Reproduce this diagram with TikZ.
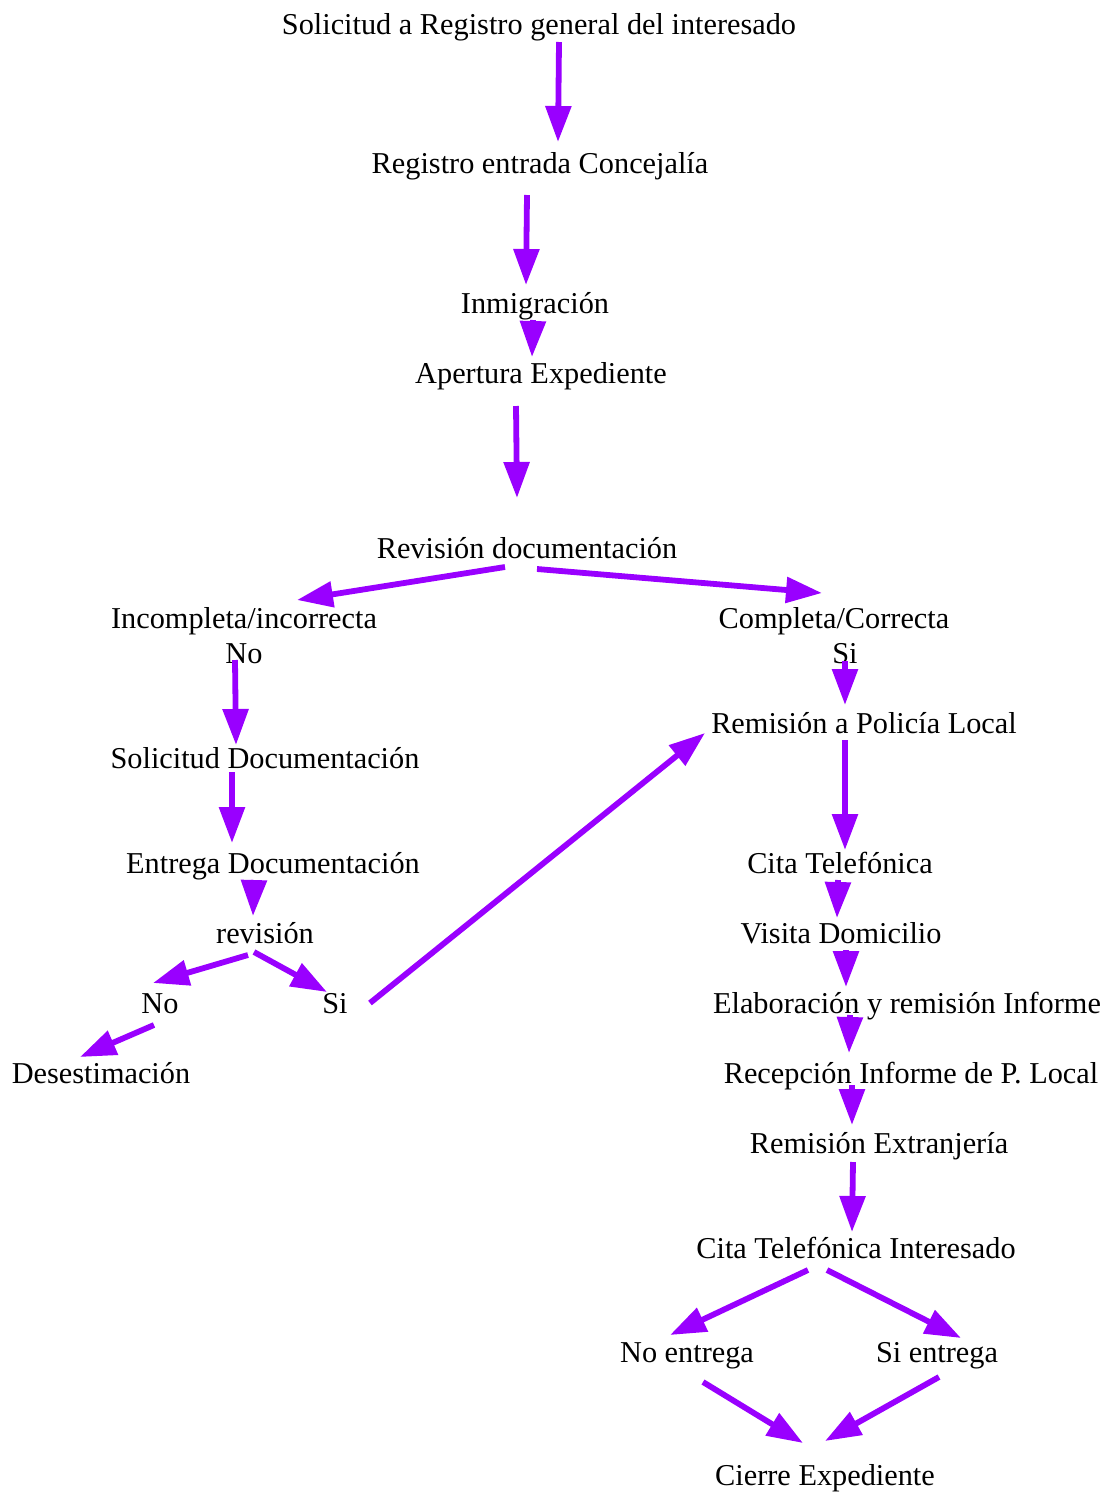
\documentclass[tikz,border=0pt]{standalone}
\usepackage{fontspec}
\setmainfont{Liberation Serif}
\usetikzlibrary{arrows.meta}
\definecolor{flowpurple}{RGB}{153,0,255}

\begin{document}
\begin{tikzpicture}[x=1pt,y=-1pt,
  lbl/.style={font=\fontsize{30.3}{35}\selectfont, inner sep=0pt, text height=20pt, text depth=0pt},
  lbltwo/.style={font=\fontsize{30.3}{35}\selectfont, inner sep=0pt, align=center, anchor=north},
  flow/.style={draw=flowpurple, line width=5.8pt, -{Triangle[length=36pt,width=25pt]}}]
\useasboundingbox (0,0) rectangle (1106,1492);

\node[lbl] (sol) at (539,24) {Solicitud a Registro general del interesado};
\node[lbl] (reg) at (540,163) {Registro entrada Concejalía};
\node[lbl] (inm) at (535,303) {Inmigración};
\node[lbl] (ape) at (541,373) {Apertura Expediente};
\node[lbl] (rev) at (527,548) {Revisión documentación};
\node[lbltwo] (inc) at (244,607) {Incompleta/incorrecta\\No};
\node[lbltwo] (com) at (834,607) {Completa/Correcta\\\hspace*{22pt}Si};
\node[lbl] (rpl) at (864,723) {Remisión a Policía Local};
\node[lbl] (sdoc) at (265,758) {Solicitud Documentación};
\node[lbl] (cita) at (840,863) {Cita Telefónica};
\node[lbl] (edoc) at (273,863) {Entrega Documentación};
\node[lbl] (rvs) at (265,933) {revisión};
\node[lbl] (visi) at (841,933) {Visita Domicilio};
\node[lbl] (no) at (160,1003) {No};
\node[lbl] (si) at (335,1003) {Si};
\node[lbl] (elab) at (907,1003) {Elaboración y remisión Informe};
\node[lbl] (dese) at (101,1073) {Desestimación};
\node[lbl] (recep) at (911,1073) {Recepción Informe de P. Local};
\node[lbl] (extr) at (879,1143) {Remisión Extranjería};
\node[lbl] (citai) at (856,1248) {Cita Telefónica Interesado};
\node[lbl] (noent) at (687,1352) {No entrega};
\node[lbl] (sient) at (937,1352) {Si entrega};
\node[lbl] (cierre) at (825,1475) {Cierre Expediente};

\draw[flow] ([shift={(20,18)}]sol.center) -- ([shift={(18,-21)}]reg.center);
\draw[flow] ([shift={(-13,32)}]reg.center) -- ([shift={(-9,-18)}]inm.center);
\draw[flow] ([shift={(-2,17)}]inm.center) -- ([shift={(-9,-16)}]ape.center);
\draw[flow] ([shift={(-25,33)}]ape.center) -- ([shift={(-10,-50)}]rev.center);
\draw[flow] ([shift={(-22,19)}]rev.center) -- ([shift={(53,-7)}]inc.north);
\draw[flow] ([shift={(10,21)}]rev.center) -- ([shift={(-12,-14)}]com.north);
\draw[flow] ([shift={(-9,53)}]inc.north) -- ([shift={(-29,-13)}]sdoc.center);
\draw[flow] ([shift={(-33,14)}]sdoc.center) -- ([shift={(-41,-20)}]edoc.center);
\draw[flow] ([shift={(-19,17)}]edoc.center) -- ([shift={(-12,-17)}]rvs.center);
\draw[flow] ([shift={(-17,22)}]rvs.center) -- ([shift={(-7,-20)}]no.center);
\draw[flow] ([shift={(-11,19)}]rvs.center) -- ([shift={(-8,-11)}]si.center);
\draw[flow] ([shift={(-6,22)}]no.center) -- ([shift={(-21,-16)}]dese.center);
\draw[flow] ([shift={(35,0)}]si.center) -- ([shift={(-159,10)}]rpl.center);
\draw[flow] ([shift={(11,54)}]com.north) -- ([shift={(-19,-18)}]rpl.center);
\draw[flow] ([shift={(-19,17)}]rpl.center) -- ([shift={(5,-13)}]cita.center);
\draw[flow] ([shift={(-2,17)}]cita.center) -- ([shift={(-4,-15)}]visi.center);
\draw[flow] ([shift={(5,17)}]visi.center) -- ([shift={(-61,-16)}]elab.center);
\draw[flow] ([shift={(-57,12)}]elab.center) -- ([shift={(-62,-20)}]recep.center);
\draw[flow] ([shift={(-59,12)}]recep.center) -- ([shift={(-27,-18)}]extr.center);
\draw[flow] ([shift={(-26,19)}]extr.center) -- ([shift={(-4,-16)}]citai.center);
\draw[flow] ([shift={(-48,22)}]citai.center) -- ([shift={(-17,-17)}]noent.center);
\draw[flow] ([shift={(-29,22)}]citai.center) -- ([shift={(24,-14)}]sient.center);
\draw[flow] ([shift={(16,30)}]noent.center) -- ([shift={(-22,-32)}]cierre.center);
\draw[flow] ([shift={(2,25)}]sient.center) -- ([shift={(0,-34)}]cierre.center);
\end{tikzpicture}
\end{document}
